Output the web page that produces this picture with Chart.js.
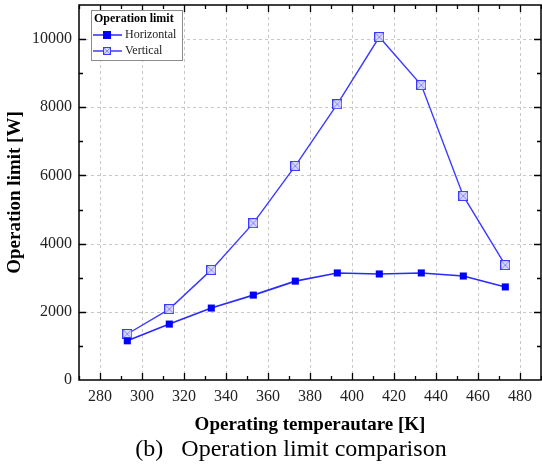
<!DOCTYPE html>
<html>
<head>
<meta charset="utf-8">
<script src="https://cdn.jsdelivr.net/npm/chart.js@4/dist/chart.umd.min.js"></script>
<style>
  html, body { margin: 0; padding: 0; background: #fff; overflow: hidden; }
  #wrap { width: 542px; height: 466px; }
</style>
</head>
<body>
<div id="wrap"><canvas id="chart"></canvas></div>
<script>
// data
var temps = [293, 313, 333, 353, 373, 393, 413, 433, 453, 473];
var horizontal = [1150, 1640, 2110, 2490, 2900, 3140, 3110, 3140, 3050, 2730];
var vertical = [1350, 2080, 3230, 4600, 6280, 8090, 10060, 8650, 5400, 3370];
var xTicks = [280, 300, 320, 340, 360, 380, 400, 420, 440, 460, 480];
var yTicks = [0, 2000, 4000, 6000, 8000, 10000];
var caption = '(b)   Operation limit comparison';

var serif = "'Liberation Serif', 'Times New Roman', serif";

// open square with a cross, for the "Vertical" series
function crossBox(size) {
    var c = document.createElement('canvas');
    c.width = size; c.height = size;
    var g = c.getContext('2d');
    g.fillStyle = '#d6d6ff';
    g.fillRect(0.5, 0.5, size - 1, size - 1);
    g.strokeStyle = '#8a8aff';
    g.lineWidth = 1;
    g.beginPath();
    g.moveTo(1, 1); g.lineTo(size - 1, size - 1);
    g.moveTo(size - 1, 1); g.lineTo(1, size - 1);
    g.stroke();
    g.strokeStyle = '#3b3bff';
    g.strokeRect(0.5, 0.5, size - 1, size - 1);
    return c;
}
var vMarker = crossBox(10);

// dashed grid, box and inward ticks
var frame = {
    id: 'frame',
    beforeDatasetsDraw: function(chart) {
        var ctx = chart.ctx, a = chart.chartArea;
        var xs = chart.scales.x, ys = chart.scales.y;
        ctx.save();
        ctx.strokeStyle = '#c8c8c8';
        ctx.lineWidth = 1;
        ctx.setLineDash([3, 3]);
        ctx.beginPath();
        xTicks.forEach(function(v) {
            var px = Math.round(xs.getPixelForValue(v)) + 0.5;
            ctx.moveTo(px, a.top); ctx.lineTo(px, a.bottom);
        });
        yTicks.forEach(function(v) {
            if (v === 0) return;
            var py = Math.round(ys.getPixelForValue(v)) + 0.5;
            ctx.moveTo(a.left, py); ctx.lineTo(a.right, py);
        });
        ctx.stroke();
        ctx.restore();
    },
    afterDatasetsDraw: function(chart) {
        var ctx = chart.ctx, a = chart.chartArea;
        var xs = chart.scales.x, ys = chart.scales.y;
        ctx.save();
        ctx.strokeStyle = '#000';
        ctx.lineWidth = 1.3;
        ctx.beginPath();
        for (var v = 270; v <= 490; v += 10) {
            var px = Math.round(xs.getPixelForValue(v)) + 0.5;
            var len = (v % 20 === 0) ? 7 : 4;
            ctx.moveTo(px, a.bottom); ctx.lineTo(px, a.bottom - len);
            ctx.moveTo(px, a.top); ctx.lineTo(px, a.top + len);
        }
        for (var w = 1000; w < 11000; w += 1000) {
            var py = Math.round(ys.getPixelForValue(w)) + 0.5;
            var l2 = (w % 2000 === 0) ? 7 : 4;
            ctx.moveTo(a.left, py); ctx.lineTo(a.left + l2, py);
            ctx.moveTo(a.right, py); ctx.lineTo(a.right - l2, py);
        }
        ctx.stroke();
        ctx.lineWidth = 1.5;
        ctx.strokeRect(a.left, a.top, a.right - a.left, a.bottom - a.top);
        ctx.restore();
    },
    afterDraw: function(chart) {
        var ctx = chart.ctx;
        ctx.save();
        // caption under the figure
        ctx.fillStyle = '#000';
        ctx.font = '24px ' + serif;
        ctx.textAlign = 'center';
        ctx.textBaseline = 'middle';
        ctx.fillText(caption, 291, 450);
        ctx.textAlign = 'left';

        // legend box in the top-left corner
        var bx = 91, by = 10, bw = 91, bh = 50;
        ctx.fillStyle = '#fff';
        ctx.fillRect(bx, by, bw, bh);
        ctx.strokeStyle = '#8c8c8c';
        ctx.lineWidth = 1;
        ctx.strokeRect(bx + 0.5, by + 0.5, bw, bh);
        ctx.fillStyle = '#000';
        ctx.font = 'bold 12px ' + serif;
        ctx.fillText('Operation limit', bx + 3, by + 9);
        var ds = chart.data.datasets;
        ds.forEach(function(d, i) {
            var y = by + 25 + i * 16;
            ctx.strokeStyle = d.borderColor;
            ctx.lineWidth = 1.5;
            ctx.beginPath();
            ctx.moveTo(bx + 2, y); ctx.lineTo(bx + 31, y);
            ctx.stroke();
            if (i === 0) {
                ctx.fillStyle = '#0000ff';
                ctx.fillRect(bx + 12, y - 4, 8, 8);
            } else {
                ctx.drawImage(crossBox(8), bx + 12, y - 4);
            }
            ctx.fillStyle = '#222';
            ctx.font = '12px ' + serif;
            ctx.fillText(d.label, bx + 34, y);
        });
        ctx.restore();
    }
};

new Chart(document.getElementById('chart'), {
    type: 'line',
    data: {
        datasets: [
            {
                label: 'Horizontal',
                data: temps.map(function(t, i) { return {x: t, y: horizontal[i]}; }),
                borderColor: '#2a2aff',
                borderWidth: 1.6,
                backgroundColor: '#0000ff',
                pointStyle: 'rect',
                pointRadius: 5,
                pointBorderWidth: 0,
                pointBackgroundColor: '#0000ff',
                tension: 0
            },
            {
                label: 'Vertical',
                data: temps.map(function(t, i) { return {x: t, y: vertical[i]}; }),
                borderColor: '#3b3bff',
                borderWidth: 1.4,
                pointStyle: vMarker,
                pointRadius: 5,
                tension: 0
            }
        ]
    },
    options: {
        responsive: true,
        maintainAspectRatio: false,
        animation: false,
        layout: { autoPadding: false, padding: { top: 5, right: 1, left: 0, bottom: 28 } },
        plugins: {
            legend: { display: false },
            tooltip: { enabled: false }
        },
        scales: {
            x: {
                type: 'linear',
                min: 270,
                max: 490,
                afterBuildTicks: function(s) { s.ticks = xTicks.map(function(v) { return {value: v}; }); },
                afterFit: function(s) { s.height = 58; s.paddingLeft = 0; s.paddingRight = 0; },
                grid: { display: false, drawTicks: false },
                border: { display: false },
                ticks: { padding: 7, color: '#222', font: { family: serif, size: 16 } },
                title: {
                    display: true,
                    text: 'Operating temperautare [K]',
                    color: '#000',
                    font: { family: serif, size: 19, weight: 'bold' },
                    padding: { top: 0, bottom: 2 }
                }
            },
            y: {
                min: 0,
                max: 11000,
                afterBuildTicks: function(s) { s.ticks = yTicks.map(function(v) { return {value: v}; }); },
                afterFit: function(s) { s.width = 79; s.paddingTop = 0; s.paddingBottom = 0; },
                grid: { display: false, drawTicks: false },
                border: { display: false },
                ticks: {
                    padding: 7, color: '#222', font: { family: serif, size: 16 },
                    callback: function(v) { return String(v); }
                },
                title: {
                    display: true,
                    text: 'Operation limit [W]',
                    color: '#000',
                    font: { family: serif, size: 19, weight: 'bold' },
                    padding: { top: 4, bottom: 0 }
                }
            }
        }
    },
    plugins: [frame]
});
</script>
</body>
</html>
